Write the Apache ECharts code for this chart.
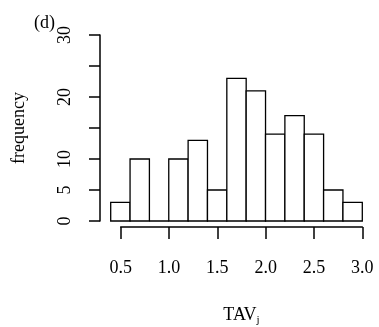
<!DOCTYPE html>
<html>
<head>
<meta charset="utf-8">
<script src="https://cdn.jsdelivr.net/npm/echarts@6/dist/echarts.min.js"></script>
<style>
  html, body { margin: 0; padding: 0; background: #fff; }
  #chart { width: 379px; height: 327px; }
</style>
</head>
<body>
<div id="chart"></div>
<script>
// histogram bins (break points) and counts
var breaks = [0.4, 0.6, 0.8, 1.0, 1.2, 1.4, 1.6, 1.8, 2.0, 2.2, 2.4, 2.6, 2.8, 3.0];
var counts = [3, 10, 0, 10, 13, 5, 23, 21, 14, 17, 14, 5, 3];
var yLabelled = [0, 5, 10, 20, 30];

var font = 'Liberation Serif, Times New Roman, serif';

var binData = counts.map(function (c, i) {
    return [breaks[i], breaks[i + 1], c];
});

var chart = echarts.init(document.getElementById('chart'));

chart.setOption({
    animation: false,
    title: {
        text: '(d)',
        left: 29,
        top: 9,
        textStyle: { fontFamily: font, fontSize: 18, fontWeight: 'normal', color: '#000' }
    },
    grid: [
        { left: 110.7, right: 16.7, top: 35, bottom: 106 },
        { left: 120.7, right: 16.7, top: 200, bottom: 98 }
    ],
    xAxis: [{
        gridIndex: 0,
        type: 'value',
        min: 0.4,
        max: 3.0,
        show: false
    }, {
        gridIndex: 1,
        type: 'value',
        min: 0.5,
        max: 3.0,
        interval: 0.5,
        splitLine: { show: false },
        axisLine: { lineStyle: { color: '#000', width: 1.5 } },
        axisTick: { length: 12, lineStyle: { color: '#000', width: 1.5 } },
        axisLabel: {
            margin: 32,
            color: '#000',
            fontFamily: font,
            fontSize: 18,
            formatter: function (v) { return v.toFixed(1); }
        },
        name: 'TAV{sub|j}',
        nameLocation: 'middle',
        nameGap: 78,
        nameTextStyle: {
            fontFamily: font,
            fontSize: 18,
            color: '#000',
            rich: {
                sub: { fontFamily: font, fontSize: 11, color: '#000', verticalAlign: 'bottom', padding: [10, 0, 0, 0] }
            }
        }
    }],
    yAxis: [{
        gridIndex: 0,
        type: 'value',
        min: 0,
        max: 30,
        interval: 5,
        offset: 10.7,
        splitLine: { show: false },
        axisLine: { show: true, lineStyle: { color: '#000', width: 1.5 } },
        axisTick: { show: true, length: 11, lineStyle: { color: '#000', width: 1.5 } },
        axisLabel: {
            rotate: 90,
            margin: 26,
            color: '#000',
            fontFamily: font,
            fontSize: 18,
            formatter: function (v) { return yLabelled.indexOf(v) >= 0 ? String(v) : ''; }
        },
        name: 'frequency',
        nameLocation: 'middle',
        nameRotate: 90,
        nameGap: 72,
        nameTextStyle: { fontFamily: font, fontSize: 18, color: '#000' }
    }, {
        gridIndex: 1,
        type: 'value',
        show: false
    }],
    series: [{
        type: 'custom',
        xAxisIndex: 0,
        yAxisIndex: 0,
        data: binData,
        renderItem: function (params, api) {
            var p0 = api.coord([api.value(0), 0]);
            var p1 = api.coord([api.value(1), api.value(2)]);
            return {
                type: 'rect',
                shape: { x: p0[0], y: p1[1], width: p1[0] - p0[0], height: p0[1] - p1[1] },
                style: { fill: '#fff', stroke: '#000', lineWidth: 1.3 }
            };
        }
    }]
});
</script>
</body>
</html>
